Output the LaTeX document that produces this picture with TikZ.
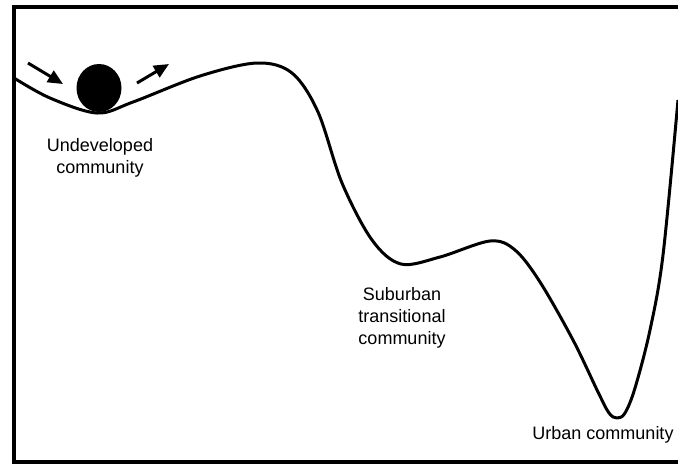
\documentclass[tikz,border=0pt]{standalone}
\usepackage{fontspec}
\setmainfont{Liberation Sans}
\usetikzlibrary{arrows.meta,shapes.geometric}

\begin{document}
\begin{tikzpicture}[
  x=0.5pt,y=-0.5pt,
  frame/.style={line width=2pt},
  valley/.style={line width=1.5pt,line join=round},
  ball/.style={ellipse,fill=black,inner sep=0pt,minimum width=22.5pt,minimum height=24pt},
  push/.style={-{Triangle[length=7.5pt,width=6.5pt]},line width=1.5pt},
  lbl/.style={align=center,font=\fontsize{9}{11}\selectfont,text=black},
]
\useasboundingbox (0,0) rectangle (678,463);
% frame, open on the right
\draw[frame] (678,7) -- (13.5,7) -- (13.5,461.5) -- (678,461.5);
% landscape
\draw[valley] plot[smooth,tension=0.55] coordinates {
  (14,78) (50,98) (97,113) (133,102) (200,76) (257,63) (292,73) (318,112)
  (342,183) (372,240) (401,264) (440,257) (490,241) (515,250) (540,282)
  (573,340) (598,392) (609,413) (617,418) (625,413) (635,388) (650,330)
  (663,255) (678,100)};
% ball in the first valley
\node[ball] (ball) at (99,88) {};
\coordinate (inA) at (28,63);
\coordinate (inB) at (63,84);
\coordinate (outA) at (137,83);
\coordinate (outB) at (169,64);
\draw[push] (inA) -- (inB);
\draw[push] (outA) -- (outB);
% labels
\node[lbl] (undev) at (100,158) {Undeveloped\\community};
\node[lbl] (suburb) at (402,318) {Suburban\\transitional\\community};
\node[lbl] (urban) at (603,435) {Urban community};
\end{tikzpicture}
\end{document}
